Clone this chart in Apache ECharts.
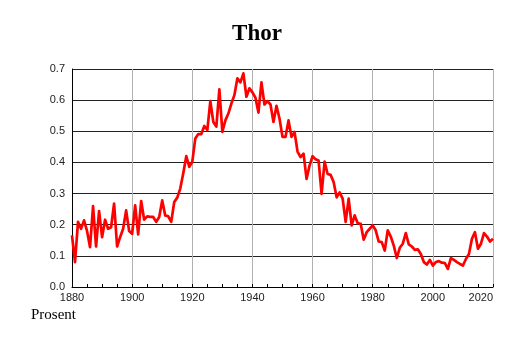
<!DOCTYPE html>
<html>
<head>
<meta charset="utf-8">
<script src="https://cdn.jsdelivr.net/npm/echarts@6/dist/echarts.min.js"></script>
<style>
  html, body { margin: 0; padding: 0; background: #fff; }
  #chart { width: 514px; height: 343px; }
</style>
</head>
<body>
<div id="chart"></div>
<script>
// Share (%) of newborns given the name, one value per year from firstYear on
const chartTitle = 'Thor';
const unitLabel = 'Prosent';
const firstYear = 1880;
const share = [
  0.166, 0.080, 0.209, 0.187, 0.214, 0.180, 0.128, 0.260, 0.130, 0.244,
  0.160, 0.216, 0.187, 0.192, 0.268, 0.130, 0.160, 0.187, 0.246, 0.180,
  0.171, 0.262, 0.169, 0.276, 0.216, 0.227, 0.225, 0.225, 0.209, 0.225,
  0.278, 0.230, 0.227, 0.209, 0.273, 0.287, 0.316, 0.365, 0.420, 0.386,
  0.402, 0.477, 0.491, 0.491, 0.517, 0.504, 0.597, 0.530, 0.515, 0.635,
  0.498, 0.535, 0.557, 0.589, 0.616, 0.670, 0.657, 0.686, 0.611, 0.638,
  0.625, 0.608, 0.560, 0.657, 0.586, 0.597, 0.586, 0.530, 0.582, 0.541,
  0.482, 0.482, 0.535, 0.482, 0.498, 0.435, 0.417, 0.428, 0.347, 0.390,
  0.420, 0.410, 0.406, 0.299, 0.403, 0.363, 0.360, 0.337, 0.288, 0.304,
  0.284, 0.209, 0.284, 0.198, 0.230, 0.205, 0.203, 0.152, 0.176, 0.187,
  0.198, 0.182, 0.146, 0.144, 0.117, 0.182, 0.162, 0.133, 0.093, 0.126,
  0.139, 0.173, 0.137, 0.130, 0.119, 0.121, 0.106, 0.080, 0.072, 0.087,
  0.069, 0.080, 0.083, 0.078, 0.077, 0.058, 0.093, 0.087, 0.080, 0.074,
  0.069, 0.090, 0.106, 0.155, 0.176, 0.123, 0.139, 0.173, 0.162, 0.146,
  0.155
];
const xTicks = [1880, 1900, 1920, 1940, 1960, 1980, 2000, 2020];
const yTicks = [0.0, 0.1, 0.2, 0.3, 0.4, 0.5, 0.6, 0.7];

const points = share.map((v, i) => [firstYear + i, v]);

const chart = echarts.init(document.getElementById('chart'), null, { renderer: 'canvas' });

chart.setOption({
  animation: false,
  backgroundColor: '#fff',
  title: {
    text: chartTitle,
    left: 'center',
    top: 18,
    textStyle: {
      fontFamily: 'Liberation Serif',
      fontWeight: 'bold',
      fontSize: 23,
      color: '#000'
    }
  },
  graphic: [{
    type: 'text',
    left: 31,
    top: 308,
    style: {
      text: unitLabel,
      fontFamily: 'Liberation Serif',
      fontSize: 15,
      fill: '#000'
    }
  }],
  grid: { left: 72, right: 21, top: 69, bottom: 56 },
  xAxis: {
    type: 'value',
    min: xTicks[0],
    max: xTicks[xTicks.length - 1],
    interval: xTicks[1] - xTicks[0],
    axisLine: { show: true, lineStyle: { color: '#000', width: 1 } },
    axisTick: { show: true, inside: true, length: 3, lineStyle: { color: '#000' } },
    minorTick: { show: true, splitNumber: 4, length: 3, lineStyle: { color: '#000' } },
    splitLine: { show: true, lineStyle: { color: '#b0b0b0', width: 1 } },
    axisLabel: {
      margin: 5,
      fontFamily: 'Liberation Sans',
      fontSize: 11,
      color: '#222',
      alignMaxLabel: 'right',
      formatter: v => String(v)
    }
  },
  yAxis: {
    type: 'value',
    min: yTicks[0],
    max: yTicks[yTicks.length - 1],
    interval: 0.1,
    axisLine: { show: true, lineStyle: { color: '#000', width: 1 } },
    axisTick: { show: false },
    splitLine: { show: true, lineStyle: { color: '#222', width: 1 } },
    axisLabel: {
      margin: 7,
      fontFamily: 'Liberation Sans',
      fontSize: 11,
      color: '#222',
      formatter: v => v.toFixed(1)
    }
  },
  series: [{
    type: 'line',
    data: points,
    showSymbol: false,
    symbol: 'none',
    lineStyle: { color: '#ff0000', width: 2.7, join: 'round' },
    z: 5
  }]
});
</script>
</body>
</html>
